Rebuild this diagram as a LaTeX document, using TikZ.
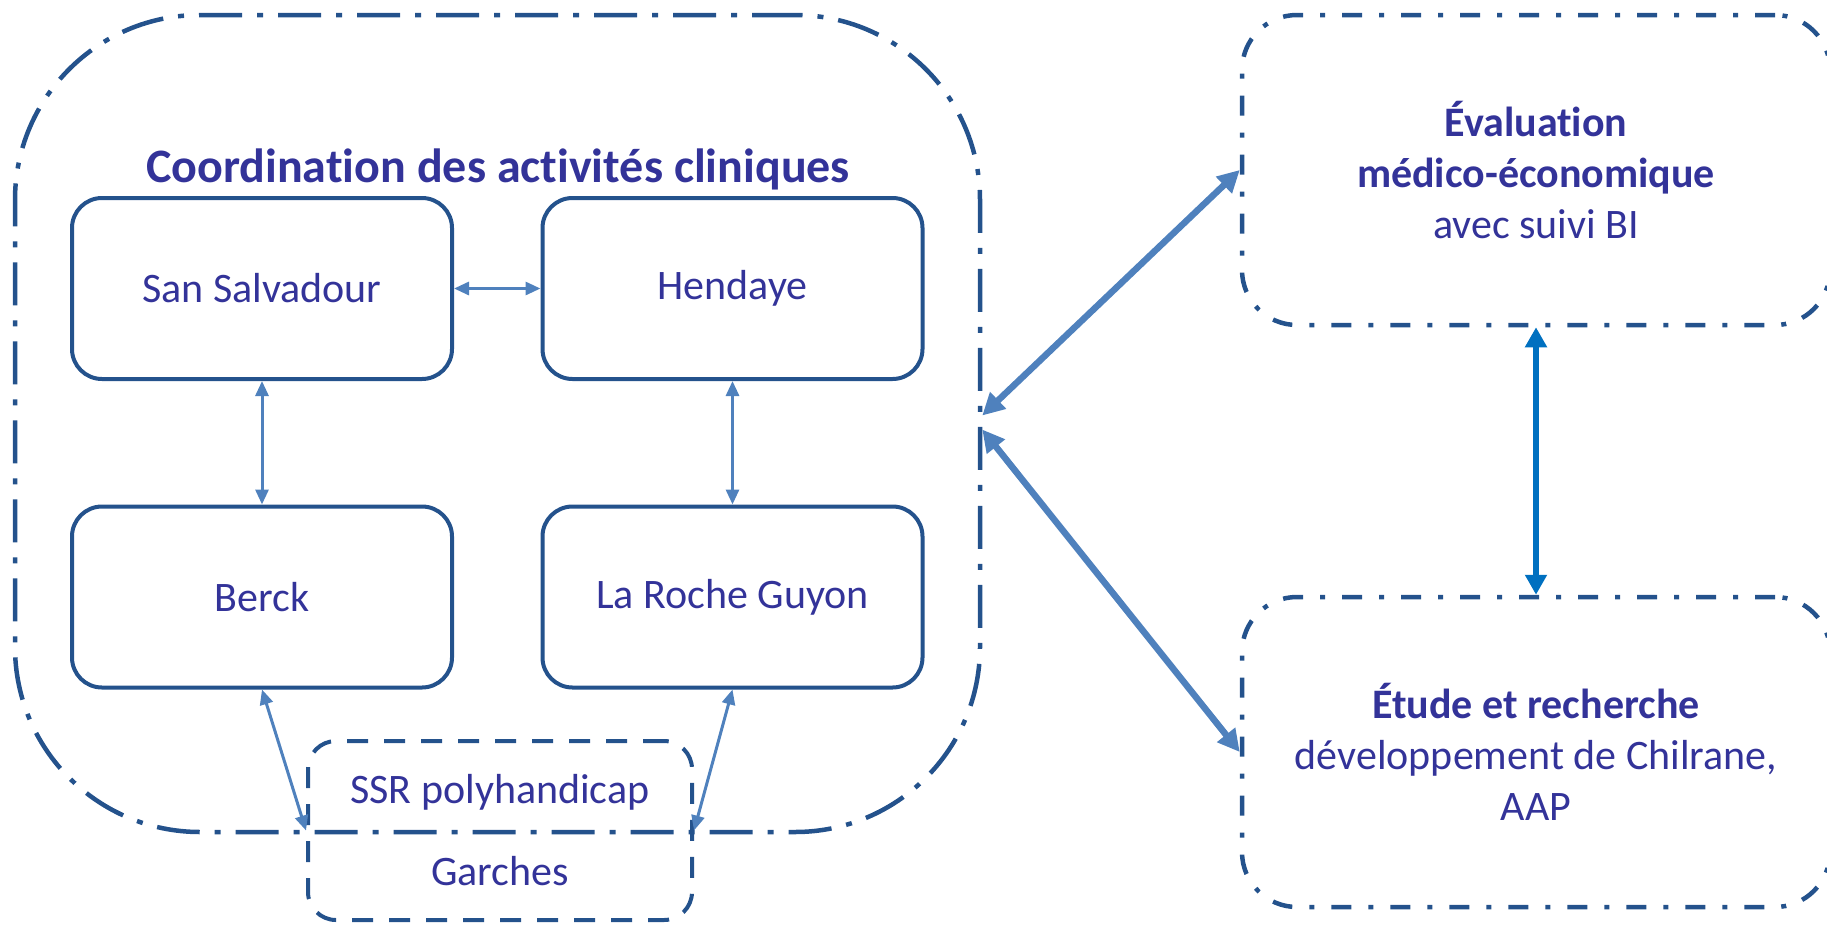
\documentclass[tikz,border=0pt]{standalone}
\usepackage{fontspec}
\setmainfont[Ligatures=NoCommon]{Carlito}
\usetikzlibrary{arrows.meta,positioning}

\definecolor{boxblue}{HTML}{24528C}
\definecolor{txtblue}{HTML}{333399}
\definecolor{linkblue}{HTML}{4F81BD}
\definecolor{vividblue}{HTML}{0070C0}

\tikzset{
  site/.style={draw=boxblue, line width=4pt, rounded corners=30pt,
    minimum width=380pt, minimum height=181pt, inner sep=0pt},
  cluster/.style={draw=boxblue, line width=4.5pt, rounded corners=185pt,
    dash pattern=on 43pt off 15pt on 6pt off 15pt,
    minimum width=965pt, minimum height=817pt, inner sep=0pt},
  panel/.style={draw=boxblue, line width=4.5pt, rounded corners=55pt,
    dash pattern=on 20pt off 17pt on 5pt off 17pt,
    minimum width=588pt, minimum height=310pt, inner sep=0pt, align=center},
  ssrbox/.style={draw=boxblue, line width=4pt, rounded corners=28pt,
    dash pattern=on 21pt off 16pt,
    minimum width=384pt, minimum height=179pt, inner sep=0pt, align=center},
  link/.style={linkblue, line width=3pt,
    {Triangle[length=15pt,width=13pt]}-{Triangle[length=15pt,width=13pt]}},
  biglink/.style={linkblue, line width=6.5pt,
    {Triangle[length=22pt,width=22pt]}-{Triangle[length=22pt,width=22pt]}},
  vertlink/.style={vividblue, line width=5.5pt,
    {Triangle[length=20pt,width=21pt]}-{Triangle[length=20pt,width=21pt]}}
}

\begin{document}
\begin{tikzpicture}[x=1pt,y=-1pt,
  every node/.style={text=txtblue, font=\fontsize{42}{51}\selectfont}]
\useasboundingbox (0,0) rectangle (1827,924);

% clinical sites
\node[cluster] (clinique) at (497.5,423.5) {};
\node[anchor=base, font=\bfseries\fontsize{48}{58}\selectfont] (titre) at (498,182)
  {Coordination des activités cliniques};
\node[site] (salvadour) at (262,288.5) {San Salvadour};
\node[site] (hendaye) at (732.5,288.5) {Hendaye};
\node[site] (berck) at (262,597) {Berck};
\node[site] (roche) at (732.5,597) {La Roche Guyon};
\node[ssrbox] (ssr) at (500,830.5) {SSR polyhandicap\\[31pt]Garches};

% right panels
\node[panel] (evalu) at (1536,170)
  {\textbf{Évaluation}\\\textbf{médico-économique}\\avec suivi BI};
\node[panel] (etude) at (1536,752)
  {\textbf{Étude et recherche}\\développement de Chilrane,\\AAP};

% links
\draw[link] (salvadour) -- (hendaye);
\draw[link] (salvadour) -- (berck);
\draw[link] (hendaye) -- (roche);
\draw[link] (berck.south) -- (ssr.west);
\draw[link] (roche.south) -- (ssr.east);
\draw[biglink] ([yshift=8pt]clinique.east) -- (evalu.west);
\draw[biglink] ([yshift=-6pt]clinique.east) -- (etude.west);
\draw[vertlink] (evalu) -- (etude);
\end{tikzpicture}
\end{document}
